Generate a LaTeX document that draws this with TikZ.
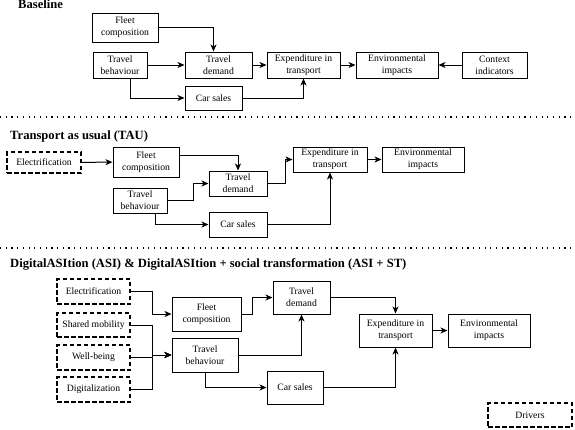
\documentclass[tikz,border=0pt]{standalone}
\usepackage{fontspec}
\setmainfont{Liberation Serif}
\usetikzlibrary{arrows.meta}

\tikzset{
	box/.style={draw=black, line width=1pt, align=center, inner sep=0pt,
		font=\fontsize{9.7}{11.7}\selectfont},
	driver/.style={box, dash pattern=on 4.5pt off 2.5pt, line width=1.6pt},
	arr/.style={-{Stealth[length=7pt,width=6pt,inset=2pt]}, line width=1pt},
	sep/.style={line width=1.2pt, dash pattern=on 1.2pt off 4.5pt},
	title/.style={anchor=base west, inner sep=0pt, font=\fontsize{12.6}{14}\selectfont\bfseries}
}

\begin{document}
\begin{tikzpicture}[x=1pt, y=-1pt]
	\useasboundingbox (0,0) rectangle (575,429);

	% Baseline
	\node[title] (t1) at (18, 8.5) {Baseline};
	\node[box, minimum width=66pt, minimum height=29pt] (fleet1) at (125, 27.5)   {Fleet\\composition};
	\node[box, minimum width=54pt, minimum height=26pt] (beh1)   at (120, 65)     {Travel\\behaviour};
	\node[box, minimum width=67pt, minimum height=26pt] (dem1)   at (218.5, 65)   {Travel\\demand};
	\node[box, minimum width=57pt, minimum height=24pt] (cars1)  at (213.5, 98)   {Car sales};
	\node[box, minimum width=73pt, minimum height=26pt] (exp1)   at (303.5, 65)   {Expenditure in\\transport};
	\node[box, minimum width=82pt, minimum height=26pt] (env1)   at (397, 65)     {Environmental\\impacts};
	\node[box, minimum width=65pt, minimum height=26pt] (ctx1)   at (494.5, 65)   {Context\\indicators};

	\draw[arr] (fleet1.east) -| ([xshift=-5pt]dem1.north);
	\path[arr] (beh1) edge (dem1);
	\path[arr] (dem1) edge (exp1);
	\draw[arr] ([xshift=10pt]beh1.south) |- (cars1.west);
	\draw[arr] (cars1.east) -| (exp1.south);
	\path[arr] (exp1) edge (env1);
	\path[arr] (ctx1) edge (env1);

	\draw[sep] (0,117) -- (575,117);

	% Transport as usual
	\node[title] (t2) at (10, 139) {Transport as usual (TAU)};
	\node[driver, minimum width=74pt, minimum height=21pt] (elec2) at (44, 162.5) {Electrification};
	\node[box, minimum width=66pt, minimum height=30pt] (fleet2) at (146, 162)    {Fleet\\composition};
	\node[box, minimum width=58pt, minimum height=25pt] (dem2)   at (238, 183.5)  {Travel\\demand};
	\node[box, minimum width=54pt, minimum height=25pt] (beh2)   at (140, 200.5)  {Travel\\behaviour};
	\node[box, minimum width=58pt, minimum height=25pt] (cars2)  at (238, 224.5)  {Car sales};
	\node[box, minimum width=74pt, minimum height=25pt] (exp2)   at (330, 159.5)  {Expenditure in\\transport};
	\node[box, minimum width=82pt, minimum height=25pt] (env2)   at (423, 159.5)  {Environmental\\impacts};

	\path[arr] (elec2) edge (fleet2);
	\draw[arr] ([yshift=7pt]fleet2.east) -| (dem2.north);
	\draw[arr] (beh2.east) -- ++(26,0) |- (dem2.west);
	\draw[arr] ([xshift=15pt]beh2.south) |- (cars2.west);
	\draw[arr] (dem2.east) -- ++(18,0) |- (exp2.west);
	\draw[arr] (cars2.east) -| (exp2.south);
	\path[arr] (exp2) edge (env2);

	\draw[sep] (0,248) -- (575,248);

	% DigitalASItion
	\node[title] (t3) at (10, 267) {DigitalASItion (ASI) \& DigitalASItion + social transformation (ASI + ST)};
	\node[driver, minimum width=73pt, minimum height=25pt] (elec3)   at (93.5, 291.5) {Electrification};
	\node[driver, minimum width=73pt, minimum height=24pt] (shared3) at (93.5, 325)   {Shared mobility};
	\node[driver, minimum width=73pt, minimum height=25pt] (well3)   at (93.5, 357.5) {Well-being};
	\node[driver, minimum width=73pt, minimum height=25pt] (digi3)   at (93.5, 389.5) {Digitalization};
	\node[box, minimum width=69pt, minimum height=34pt] (fleet3) at (206.5, 314)   {Fleet\\composition};
	\node[box, minimum width=66pt, minimum height=34pt] (beh3)   at (205, 355)     {Travel\\behaviour};
	\node[box, minimum width=57pt, minimum height=33pt] (dem3)   at (301.5, 297.5) {Travel\\demand};
	\node[box, minimum width=56pt, minimum height=33pt] (cars3)  at (295, 387.5)   {Car sales};
	\node[box, minimum width=73pt, minimum height=33pt] (exp3)   at (395.5, 330.5) {Expenditure in\\transport};
	\node[box, minimum width=82pt, minimum height=33pt] (env3)   at (489, 330.5)   {Environmental\\impacts};
	\node[driver, minimum width=84pt, minimum height=24pt] (drv) at (530, 415)     {Drivers};

	\draw[arr] (elec3.east) -- ++(22,0) |- (fleet3.west);
	\draw[arr] (shared3.east) -- ++(22,0) |- (beh3.west);
	\draw[arr] (well3.east) -- ++(22,0) |- (beh3.west);
	\draw[arr] (digi3.east) -- ++(22,0) |- (beh3.west);
	\draw[arr] (fleet3.east) -- ++(11,0) |- (dem3.west);
	\draw[arr] (beh3.east) -| (dem3.south);
	\draw[arr] (beh3.south) |- (cars3.west);
	\draw[arr] (dem3.east) -| (exp3.north);
	\draw[arr] (cars3.east) -| (exp3.south);
	\path[arr] (exp3) edge (env3);
\end{tikzpicture}
\end{document}
